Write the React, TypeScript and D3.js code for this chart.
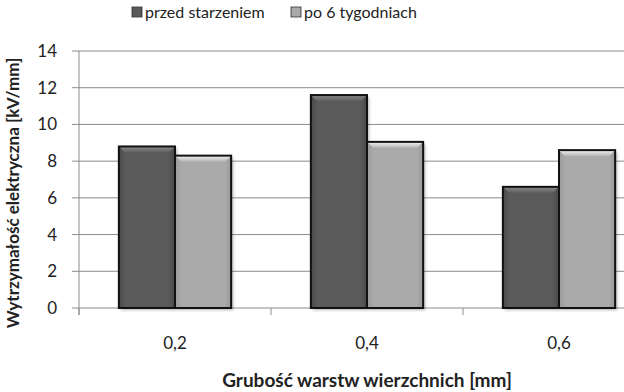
import * as d3 from 'd3';

const categories = ["0,2", "0,4", "0,6"];
const seriesNames = ["przed starzeniem", "po 6 tygodniach"];
const przedStarzeniem = [8.8, 11.6, 6.6];
const po6Tygodniach = [8.3, 9.05, 8.6];
const yTicks = [0, 2, 4, 6, 8, 10, 12, 14];

const W = 624;
const H = 392;
const margin = { top: 51, right: -31, bottom: 84, left: 79 };
const font = "Lato, 'Open Sans', sans-serif";

export default function App() {
  const x = d3.scaleBand<string>()
    .domain(categories)
    .range([margin.left, W - margin.right]);

  const inner = d3.scaleBand<number>()
    .domain([0, 1])
    .range([0, x.bandwidth()])
    .paddingOuter(0.71)
    .paddingInner(0);

  const y = d3.scaleLinear()
    .domain([0, 14])
    .range([H - margin.bottom, margin.top]);

  const series = [przedStarzeniem, po6Tygodniach];
  const fills = ["url(#gDark)", "url(#gLight)"];
  const bevel = ["url(#bDark)", "url(#bLight)"];
  const grid = "#8c8c8c";
  const y0 = y(0);

  const boundaries = categories.map((c) => x(c)!).concat([x(categories[2])! + x.bandwidth()]);

  return (
    <svg width={W} height={H} style={{ position: 'absolute', left: 0, top: 0, background: '#fff' }} fontFamily={font}>
      <defs>
        <linearGradient id="gDark" x1="0" x2="1" y1="0" y2="0">
          <stop offset="0" stopColor="#4a4a4a" />
          <stop offset="0.12" stopColor="#5a5a5a" />
          <stop offset="0.88" stopColor="#5a5a5a" />
          <stop offset="1" stopColor="#4a4a4a" />
        </linearGradient>
        <linearGradient id="gLight" x1="0" x2="1" y1="0" y2="0">
          <stop offset="0" stopColor="#9a9a9a" />
          <stop offset="0.12" stopColor="#aaaaaa" />
          <stop offset="0.88" stopColor="#aaaaaa" />
          <stop offset="1" stopColor="#9a9a9a" />
        </linearGradient>
        <linearGradient id="bDark" x1="0" x2="0" y1="0" y2="1">
          <stop offset="0" stopColor="#8a8a8a" />
          <stop offset="1" stopColor="#606060" />
        </linearGradient>
        <linearGradient id="bLight" x1="0" x2="0" y1="0" y2="1">
          <stop offset="0" stopColor="#f4f4f4" />
          <stop offset="1" stopColor="#b4b4b4" />
        </linearGradient>
        <filter id="shadow" x="-20%" y="-20%" width="140%" height="140%">
          <feDropShadow dx="2" dy="2" stdDeviation="1.5" floodColor="#000" floodOpacity="0.3" />
        </filter>
      </defs>

      {/* gridlines and y ticks */}
      {yTicks.map((t) => (
        <g key={t}>
          <line x1={margin.left - 7} x2={W} y1={y(t)} y2={y(t)} stroke={grid} strokeWidth={1} />
          <text x={57} y={y(t)} dy="0.35em" textAnchor="end" fontSize={17} fill="#222">{t}</text>
        </g>
      ))}
      <line x1={margin.left} x2={margin.left} y1={y(14)} y2={y0 + 7} stroke={grid} strokeWidth={1} />
      {boundaries.map((b, i) => (
        <line key={i} x1={b} x2={b} y1={y0} y2={y0 + 7} stroke={grid} strokeWidth={1} />
      ))}

      {/* bars */}
      {categories.map((c, ci) => (
        <g key={c}>
          {series.map((s, si) => {
            const bx = x(c)! + inner(si)!;
            const bw = inner.bandwidth();
            const by = y(s[ci]);
            const bh = y0 - by;
            return (
              <g key={si}>
                <rect x={bx} y={by} width={bw} height={bh} fill={fills[si]} filter="url(#shadow)" />
                <path
                  d={`M${bx},${by} L${bx + bw},${by} L${bx + bw - 6},${by + 6} L${bx + 6},${by + 6} Z`}
                  fill={bevel[si]}
                />
                <rect x={bx} y={by} width={bw} height={bh} fill="none" stroke="#111" strokeWidth={2} />
              </g>
            );
          })}
          <text x={x(c)! + x.bandwidth() / 2} y={343} dy="0.35em" textAnchor="middle" fontSize={17} fill="#222">{c}</text>
        </g>
      ))}

      {/* legend */}
      {seriesNames.map((n, i) => {
        const lx = [132, 291][i];
        return (
          <g key={n}>
            <rect x={lx} y={7} width={10} height={10} fill={fills[i]} stroke="#333" strokeWidth={0.8} />
            <text x={lx + 13} y={12} dy="0.35em" fontSize={16} fill="#222">{n}</text>
          </g>
        );
      })}

      {/* axis titles */}
      <text
        transform={`translate(13,193) rotate(-90)`}
        textAnchor="middle"
        dy="0.35em"
        fontSize={17}
        fontWeight="bold"
        fill="#222"
      >
        Wytrzymałość elektryczna [kV/mm]
      </text>
      <text x={(margin.left + W - margin.right) / 2} y={380} dy="0.35em" textAnchor="middle" fontSize={19} fontWeight="bold" fill="#222">
        Grubość warstw wierzchnich [mm]
      </text>
    </svg>
  );
}
